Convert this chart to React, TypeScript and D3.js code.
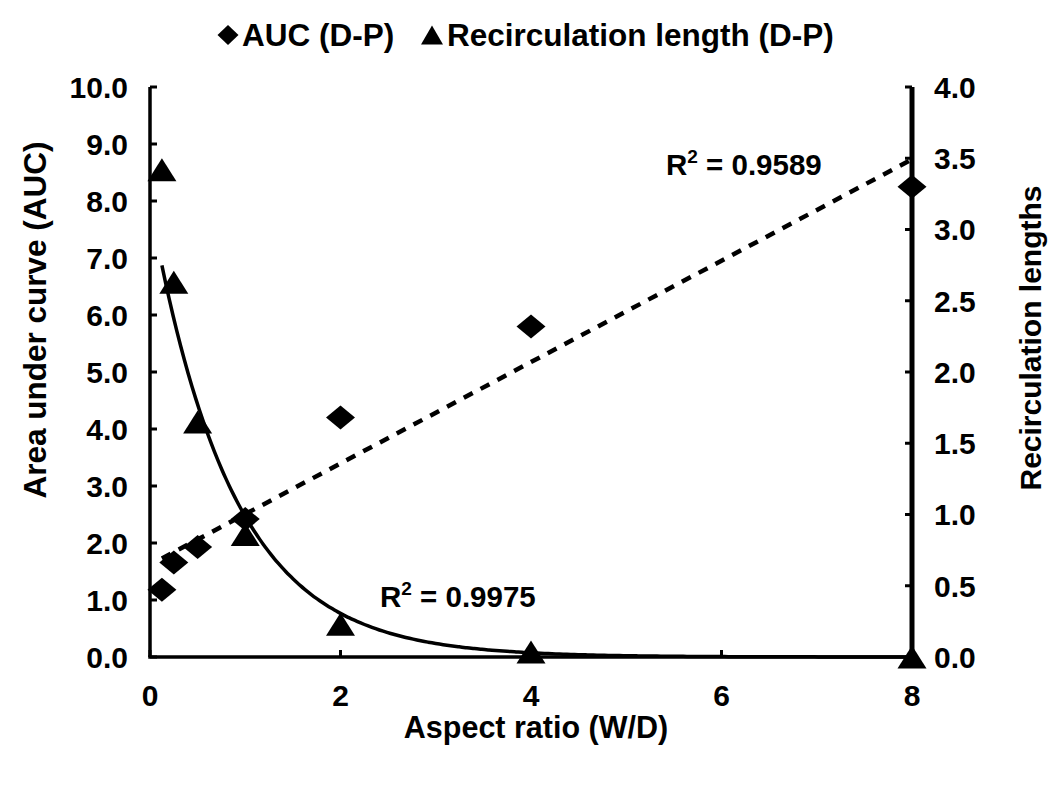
import React from 'react';
import * as d3 from 'd3';

// ---- data ----
const aspectRatios = [0.125, 0.25, 0.5, 1, 2, 4, 8];
const aucValues = [1.18, 1.66, 1.93, 2.42, 4.2, 5.8, 8.25];
const recircValues = [3.42, 2.63, 1.65, 0.86, 0.23, 0.035, 0];
const xTicks = [0, 2, 4, 6, 8];
const leftTicks = [0, 1, 2, 3, 4, 5, 6, 7, 8, 9, 10];
const rightTicks = [0, 0.5, 1, 1.5, 2, 2.5, 3, 3.5, 4];
const legendLabels = ['AUC (D-P)', 'Recirculation length (D-P)'];
const aucR2 = '0.9589';
const recircR2 = '0.9975';
const xTitle = 'Aspect ratio (W/D)';
const yLeftTitle = 'Area under curve (AUC)';
const yRightTitle = 'Recirculation lengths';

const W = 1050;
const H = 785;
const M = { left: 150, right: 912, top: 87, bottom: 657 };
const FONT = '"Liberation Sans", Arial, sans-serif';

function linearFit(xs: number[], ys: number[]) {
  const n = xs.length;
  const mx = d3.mean(xs)!;
  const my = d3.mean(ys)!;
  let sxx = 0, sxy = 0;
  for (let i = 0; i < n; i++) {
    sxx += (xs[i] - mx) ** 2;
    sxy += (xs[i] - mx) * (ys[i] - my);
  }
  const slope = sxy / sxx;
  return { slope, intercept: my - slope * mx };
}

export default function App() {
  const x = d3.scaleLinear().domain([0, 8]).range([M.left, M.right]);
  const yL = d3.scaleLinear().domain([0, 10]).range([M.bottom, M.top]);
  const yR = d3.scaleLinear().domain([0, 4]).range([M.bottom, M.top]);

  // linear trendline for AUC
  const lin = linearFit(aspectRatios, aucValues);
  const x0 = aspectRatios[0];
  const x1 = aspectRatios[aspectRatios.length - 1];
  const linPath = d3.line()([
    [x(x0), yL(lin.intercept + lin.slope * x0)],
    [x(x1), yL(lin.intercept + lin.slope * x1)],
  ]);

  // exponential trendline for recirculation length (log-linear fit on positive values)
  const posIdx = recircValues.map((v, i) => i).filter((i) => recircValues[i] > 0);
  const ef = linearFit(
    posIdx.map((i) => aspectRatios[i]),
    posIdx.map((i) => Math.log(recircValues[i]))
  );
  const a = Math.exp(ef.intercept);
  const b = ef.slope;
  const expPts: [number, number][] = d3
    .range(0, 201)
    .map((k) => x0 + ((x1 - x0) * k) / 200)
    .map((v) => [x(v), yR(a * Math.exp(b * v))]);
  const expPath = d3.line().curve(d3.curveMonotoneX)(expPts);

  const diamond = (cx: number, cy: number, w: number, h: number) =>
    `M${cx},${cy - h / 2}L${cx + w / 2},${cy}L${cx},${cy + h / 2}L${cx - w / 2},${cy}Z`;
  const triangle = (cx: number, cy: number, w: number, h: number) =>
    `M${cx},${cy - h / 2}L${cx + w / 2},${cy + h / 2}L${cx - w / 2},${cy + h / 2}Z`;

  const tickLen = 7;

  return (
    <svg
      width={W}
      height={H}
      style={{ position: 'absolute', left: 0, top: 0, background: '#fff' }}
      fontFamily={FONT}
      fontWeight="bold"
    >
      <rect x={0} y={0} width={W} height={H} fill="#fff" />

      {/* legend */}
      <path d={diamond(228, 35, 21, 20)} fill="#000" />
      <text x={242} y={46} fontSize={31.5} fill="#000">{legendLabels[0]}</text>
      <path d={triangle(432, 35, 22, 19)} fill="#000" />
      <text x={447} y={46} fontSize={31.5} fill="#000">{legendLabels[1]}</text>

      {/* trendlines */}
      <path d={linPath!} fill="none" stroke="#000" strokeWidth={4.5} strokeDasharray="10,9" />
      <path d={expPath!} fill="none" stroke="#000" strokeWidth={3.5} />

      {/* axes */}
      <line x1={M.left} x2={M.left} y1={M.top} y2={M.bottom} stroke="#000" strokeWidth={3.5} />
      <line x1={M.right} x2={M.right} y1={M.top} y2={M.bottom} stroke="#000" strokeWidth={5} />
      <line x1={M.left - 1.75} x2={M.right} y1={M.bottom} y2={M.bottom} stroke="#000" strokeWidth={3.5} />

      {leftTicks.map((t) => (
        <g key={'l' + t}>
          <line x1={M.left} x2={M.left + tickLen} y1={yL(t)} y2={yL(t)} stroke="#000" strokeWidth={3} />
          <text x={128} y={yL(t)} dy="0.36em" textAnchor="end" fontSize={30} fill="#000">
            {t.toFixed(1)}
          </text>
        </g>
      ))}
      {rightTicks.map((t) => (
        <g key={'r' + t}>
          <line x1={M.right - tickLen} x2={M.right} y1={yR(t)} y2={yR(t)} stroke="#000" strokeWidth={3} />
          <text x={934} y={yR(t)} dy="0.36em" textAnchor="start" fontSize={30} fill="#000">
            {t.toFixed(1)}
          </text>
        </g>
      ))}
      {xTicks.map((t) => (
        <g key={'x' + t}>
          <line x1={x(t)} x2={x(t)} y1={M.bottom} y2={M.bottom - tickLen} stroke="#000" strokeWidth={3} />
          <text x={x(t)} y={706} textAnchor="middle" fontSize={30} fill="#000">
            {t}
          </text>
        </g>
      ))}

      {/* markers */}
      {aspectRatios.map((v, i) => (
        <path key={'d' + i} d={diamond(x(v), yL(aucValues[i]), 29, 24)} fill="#000" />
      ))}
      {aspectRatios.map((v, i) => (
        <path key={'t' + i} d={triangle(x(v), yR(recircValues[i]), 29, 23)} fill="#000" />
      ))}

      {/* R² labels */}
      <text x={666} y={175} fontSize={29.5} fill="#000">
        R<tspan fontSize={19} dy={-12}>2</tspan>
        <tspan dy={12}>{' = ' + aucR2}</tspan>
      </text>
      <text x={380} y={607} fontSize={29.5} fill="#000">
        R<tspan fontSize={19} dy={-12}>2</tspan>
        <tspan dy={12}>{' = ' + recircR2}</tspan>
      </text>

      {/* axis titles */}
      <text x={536} y={738} textAnchor="middle" fontSize={30.5} fill="#000">{xTitle}</text>
      <text
        transform={`translate(46,${320}) rotate(-90)`}
        textAnchor="middle"
        fontSize={31.5}
        fill="#000"
      >
        {yLeftTitle}
      </text>
      <text
        transform={`translate(1041,${338}) rotate(-90)`}
        textAnchor="middle"
        fontSize={30}
        fill="#000"
      >
        {yRightTitle}
      </text>
    </svg>
  );
}
